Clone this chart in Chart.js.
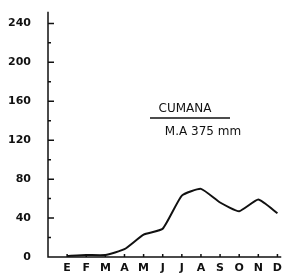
<!DOCTYPE html>
<html>
<head>
<meta charset="utf-8">
<script src="https://cdn.jsdelivr.net/npm/chart.js@4/dist/chart.umd.min.js"></script>
<style>
html, body { margin: 0; padding: 0; background: #fff; }
#wrap { width: 287px; height: 277px; }
</style>
</head>
<body>
<div id="wrap"><canvas id="rainChart" width="287" height="277"></canvas></div>
<script>
const months = ['E', 'F', 'M', 'A', 'M', 'J', 'J', 'A', 'S', 'O', 'N', 'D'];
const rainfall = [1, 2, 2, 8, 23, 29, 63, 70, 56, 47, 59, 45];
const yTicks = [0, 40, 80, 120, 160, 200, 240];
const stationName = 'CUMANA';
const annualNote = 'M.A 375 mm';

// small tick marks drawn inward from the axes, like the original drawing
const axisMarks = {
    id: 'axisMarks',
    afterDraw(chart) {
        const c = chart.ctx;
        const xs = chart.scales.x, ys = chart.scales.y;
        const x0 = xs.getPixelForValue(0), y0 = ys.getPixelForValue(0);
        c.save();
        c.strokeStyle = '#111';
        c.lineWidth = 1.5;
        c.beginPath();
        c.moveTo(x0, ys.getPixelForValue(252));
        c.lineTo(x0, y0);
        c.lineTo(xs.right, y0);
        for (let v = 20; v <= 240; v += 20) {
            const y = ys.getPixelForValue(v);
            c.moveTo(x0, y);
            c.lineTo(x0 + (v % 40 === 0 ? 6 : 3), y);
        }
        months.forEach((m, i) => {
            const x = xs.getPixelForValue(i + 1);
            c.moveTo(x, y0);
            c.lineTo(x, y0 - 3);
        });
        c.stroke();

        c.fillStyle = '#111';
        c.font = '12px "DejaVu Sans"';
        c.textAlign = 'center';
        c.textBaseline = 'middle';
        c.fillText(stationName, 185, 109);
        c.fillText(annualNote, 203, 132);
        c.beginPath();
        c.moveTo(150, 118);
        c.lineTo(230, 118);
        c.stroke();
        c.restore();
    }
};

const ctx = document.getElementById('rainChart').getContext('2d');
const rainChart = new Chart(ctx, {
    type: 'line',
    data: {
        datasets: [{
            data: rainfall.map((v, i) => ({ x: i + 1, y: v })),
            borderColor: '#111',
            borderWidth: 2,
            tension: 0.15,
            pointRadius: 0,
            fill: false
        }]
    },
    options: {
        responsive: false,
        animation: false,
        layout: { padding: { top: 5, right: 0, left: 0, bottom: 0 } },
        plugins: {
            legend: { display: false },
            tooltip: { enabled: false }
        },
        scales: {
            x: {
                type: 'linear',
                min: 0,
                max: 12.2,
                border: { display: false },
                grid: { display: false, drawTicks: false, tickLength: 0 },
                afterBuildTicks: s => { s.ticks = months.map((m, i) => ({ value: i + 1 })); },
                afterFit: s => { s.height = 20; },
                ticks: {
                    padding: 5,
                    color: '#111',
                    font: { family: 'DejaVu Sans', size: 11, weight: 'bold' },
                    callback: v => months[v - 1] || ''
                }
            },
            y: {
                min: 0,
                max: 248,
                border: { display: false },
                grid: { display: false },
                afterBuildTicks: s => { s.ticks = yTicks.map(v => ({ value: v })); },
                afterFit: s => { s.width = 48; },
                ticks: {
                    padding: 9,
                    color: '#111',
                    font: { family: 'DejaVu Sans', size: 11, weight: 'bold' }
                }
            }
        }
    },
    plugins: [axisMarks]
});
</script>
</body>
</html>
